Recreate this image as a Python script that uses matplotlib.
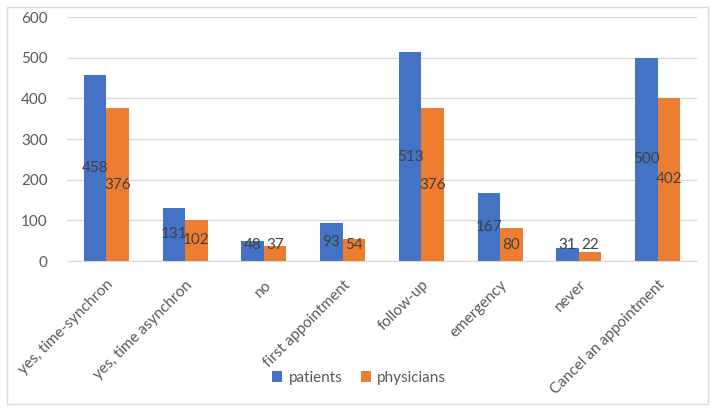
import numpy as np
import matplotlib.pyplot as plt
from matplotlib.patches import Rectangle

# Data
categories = ["yes, time-synchron", "yes, time asynchron", "no", "first appointment",
              "follow-up", "emergency", "never", "Cancel an appointment"]
patients = [458, 131, 48, 93, 513, 167, 31, 500]
physicians = [376, 102, 37, 54, 376, 80, 22, 402]

blue = "#4472C4"
orange = "#ED7D31"
grid = "#D9D9D9"
txt = "#595959"

plt.rcParams['font.family'] = ['Lato', 'DejaVu Sans']

fig = plt.figure(figsize=(7.18, 4.12), dpi=100)
ax = fig.add_axes([0.0933, 0.3665, 0.8775, 0.5922])

x = np.arange(len(categories))
w = 0.286
b1 = ax.bar(x - w/2, patients, w, color=blue)
b2 = ax.bar(x + w/2, physicians, w, color=orange)

# centred value labels, kept off the axis for short bars
for bars, vals in ((b1, patients), (b2, physicians)):
    for r, v in zip(bars, vals):
        ax.text(r.get_x() + r.get_width()/2, max(v/2, 39), str(v),
                ha='center', va='center', fontsize=11, color="#404040")

ax.set_xlim(-0.5, len(categories) - 0.5)
ax.set_ylim(0, 600)
ax.set_yticks(range(0, 601, 100))
ax.yaxis.grid(True, color=grid, linewidth=1)
ax.set_axisbelow(True)
for s in ('top', 'right', 'left'):
    ax.spines[s].set_visible(False)
ax.spines['bottom'].set_color(grid)
ax.tick_params(axis='both', length=0, colors=txt, labelsize=11)
ax.tick_params(axis='y', pad=14)
ax.set_xticks(x)
ax.set_xticklabels(categories, rotation=45, ha='right', rotation_mode='anchor')
ax.tick_params(axis='x', pad=12)

fig.legend([b1, b2], ["patients", "physicians"], loc='center', ncol=2,
           bbox_to_anchor=(0.5, 0.083), frameon=False, fontsize=11,
           handlelength=0.7, handleheight=0.7, handletextpad=0.4, columnspacing=1.2,
           labelcolor=txt)

fig.patches.append(Rectangle((7/718, 1 - 404/412), 701/718, 397/412,
                             transform=fig.transFigure, fill=False,
                             edgecolor=grid, linewidth=1))

fig.savefig("out.png", dpi=100)
